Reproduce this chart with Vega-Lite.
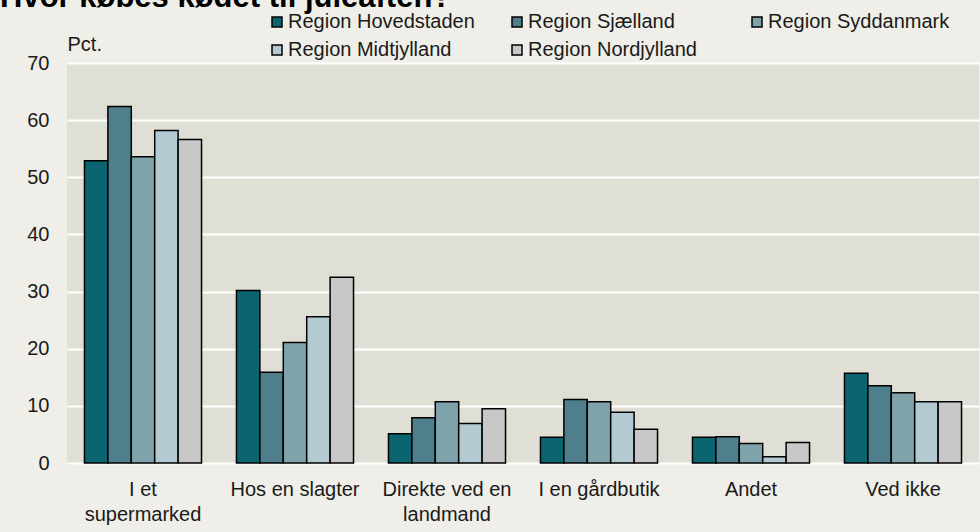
{
  "$schema": "https://vega.github.io/schema/vega-lite/v6.json",
  "width": 912,
  "height": 400,
  "autosize": {"type": "none"},
  "padding": {"left": 67, "top": 63, "right": 1, "bottom": 69},
  "background": "#EFEEE8",
  "title": {
    "text": "Hvor købes kødet til juleaften?",
    "anchor": "start",
    "frame": "group",
    "dx": -67,
    "dy": 6,
    "fontSize": 31,
    "fontWeight": "bold",
    "font": "Liberation Sans",
    "color": "#000000",
    "baseline": "alphabetic",
    "offset": -20
  },
  "config": {
    "font": "Liberation Sans",
    "view": {"fill": "#E0DFD5", "stroke": null}
  },
  "data": {
    "values": [
      {"sted": "I et supermarked", "region": "Region Hovedstaden", "pct": 52.9},
      {"sted": "I et supermarked", "region": "Region Sjælland", "pct": 62.4},
      {"sted": "I et supermarked", "region": "Region Syddanmark", "pct": 53.6},
      {"sted": "I et supermarked", "region": "Region Midtjylland", "pct": 58.2},
      {"sted": "I et supermarked", "region": "Region Nordjylland", "pct": 56.6},
      {"sted": "Hos en slagter", "region": "Region Hovedstaden", "pct": 30.2},
      {"sted": "Hos en slagter", "region": "Region Sjælland", "pct": 15.9},
      {"sted": "Hos en slagter", "region": "Region Syddanmark", "pct": 21.1},
      {"sted": "Hos en slagter", "region": "Region Midtjylland", "pct": 25.6},
      {"sted": "Hos en slagter", "region": "Region Nordjylland", "pct": 32.5},
      {"sted": "Direkte ved en landmand", "region": "Region Hovedstaden", "pct": 5.1},
      {"sted": "Direkte ved en landmand", "region": "Region Sjælland", "pct": 7.9},
      {"sted": "Direkte ved en landmand", "region": "Region Syddanmark", "pct": 10.7},
      {"sted": "Direkte ved en landmand", "region": "Region Midtjylland", "pct": 6.9},
      {"sted": "Direkte ved en landmand", "region": "Region Nordjylland", "pct": 9.5},
      {"sted": "I en gårdbutik", "region": "Region Hovedstaden", "pct": 4.5},
      {"sted": "I en gårdbutik", "region": "Region Sjælland", "pct": 11.1},
      {"sted": "I en gårdbutik", "region": "Region Syddanmark", "pct": 10.7},
      {"sted": "I en gårdbutik", "region": "Region Midtjylland", "pct": 8.9},
      {"sted": "I en gårdbutik", "region": "Region Nordjylland", "pct": 5.9},
      {"sted": "Andet", "region": "Region Hovedstaden", "pct": 4.5},
      {"sted": "Andet", "region": "Region Sjælland", "pct": 4.6},
      {"sted": "Andet", "region": "Region Syddanmark", "pct": 3.4},
      {"sted": "Andet", "region": "Region Midtjylland", "pct": 1.1},
      {"sted": "Andet", "region": "Region Nordjylland", "pct": 3.6},
      {"sted": "Ved ikke", "region": "Region Hovedstaden", "pct": 15.7},
      {"sted": "Ved ikke", "region": "Region Sjælland", "pct": 13.5},
      {"sted": "Ved ikke", "region": "Region Syddanmark", "pct": 12.3},
      {"sted": "Ved ikke", "region": "Region Midtjylland", "pct": 10.7},
      {"sted": "Ved ikke", "region": "Region Nordjylland", "pct": 10.7}
    ]
  },
  "mark": {"type": "bar", "stroke": "#000000", "strokeWidth": 1.5},
  "encoding": {
    "x": {
      "field": "sted",
      "type": "nominal",
      "sort": ["I et supermarked", "Hos en slagter", "Direkte ved en landmand", "I en gårdbutik", "Andet", "Ved ikke"],
      "scale": {"paddingInner": 0.23, "paddingOuter": 0.115},
      "axis": {
        "title": null,
        "labelAngle": 0,
        "domain": false,
        "ticks": false,
        "labelPadding": 16,
        "labelFontSize": 20,
        "labelColor": "#1a1a1a",
        "labelLineHeight": 25,
        "labelLimit": 200,
        "labelExpr": "datum.label == 'I et supermarked' ? ['I et', 'supermarked'] : datum.label == 'Direkte ved en landmand' ? ['Direkte ved en', 'landmand'] : datum.label"
      }
    },
    "xOffset": {
      "field": "region",
      "type": "nominal",
      "sort": ["Region Hovedstaden", "Region Sjælland", "Region Syddanmark", "Region Midtjylland", "Region Nordjylland"],
      "scale": {"paddingInner": 0, "paddingOuter": 0}
    },
    "y": {
      "field": "pct",
      "type": "quantitative",
      "scale": {"domain": [0, 70], "nice": false},
      "axis": {
        "values": [0, 10, 20, 30, 40, 50, 60, 70],
        "domain": false,
        "ticks": false,
        "gridColor": "#FFFFFF",
        "gridWidth": 2,
        "gridOpacity": 1,
        "labelFontSize": 20,
        "labelColor": "#1a1a1a",
        "labelPadding": 18,
        "title": "Pct.",
        "titleAngle": 0,
        "titleX": 0,
        "titleY": -13,
        "titleAlign": "left",
        "titleBaseline": "alphabetic",
        "titleFontSize": 20,
        "titleFontWeight": "normal",
        "titleColor": "#1a1a1a"
      }
    },
    "color": {
      "field": "region",
      "type": "nominal",
      "scale": {
        "domain": ["Region Hovedstaden", "Region Sjælland", "Region Syddanmark", "Region Midtjylland", "Region Nordjylland"],
        "range": ["#0B6470", "#4F7F8C", "#7FA3AB", "#B3CAD2", "#C8C8C8"]
      },
      "legend": {
        "title": null,
        "orient": "none",
        "direction": "horizontal",
        "legendX": 200,
        "legendY": -51,
        "columns": 3,
        "gridAlign": "all",
        "columnPadding": 32,
        "rowPadding": 8,
        "symbolType": "square",
        "symbolSize": 100,
        "symbolStrokeColor": "#000000",
        "symbolStrokeWidth": 1.5,
        "symbolOpacity": 1,
        "labelFontSize": 20,
        "labelColor": "#1a1a1a",
        "labelOffset": 1,
        "labelLimit": 300
      }
    }
  }
}
